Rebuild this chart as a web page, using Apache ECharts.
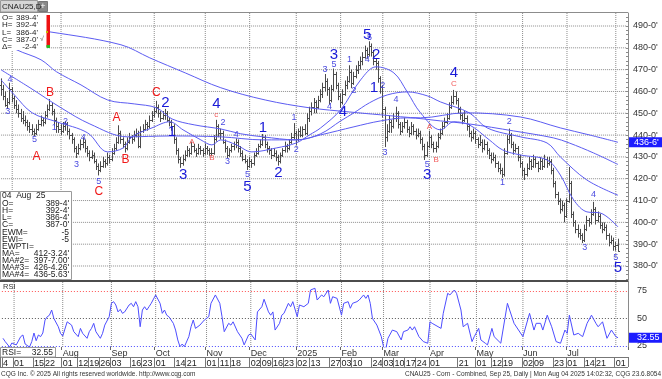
<!DOCTYPE html>
<html><head><meta charset="utf-8">
<script src="https://cdn.jsdelivr.net/npm/echarts@6/dist/echarts.min.js"></script>
<style>html,body{margin:0;padding:0;background:#fff}#c{width:662px;height:379px}</style>
</head><body><div id="c"></div>
<script>
// ---------- DATA ----------
const startDate = '2024-06-24', endDate = '2025-08-04';
const holidays = ['2024-07-04','2024-09-02','2024-11-28','2024-12-25','2025-01-01','2025-01-09','2025-01-20','2025-02-17','2025-04-18','2025-05-26','2025-06-19','2025-07-04'];
const padSlots = 4;

// [open, high, low, close] per trading day
const ohlc = [
[463,466,458,461],[461,463,456,458],[458,460,453,454],[454,457,452,455],[455,464,454,461],[461,462,455,457],[457,458,452,454],[454,456,450,452],[452,454,448,450],[450,452,446,448],
[448,451,445,447],[447,449,444,446],[446,447,442,444],[444,446,441,443],[443,445,440,442],[442,443,439.5,441],[441,445,440,443],[443,447,442,445],[445,449,444,447],[447,448,444,446],
[446,451,445,449],[449,454,448,452],[452,456.5,451,454],[454,455,449,451],[451,452,444,447],[447,448,441,444],[444,446,441,443],[443,445,440,442],[442,446,441,444],[444,446.5,442,445],
[445,446,440,442],[442,443,438,440],[440,441,436,438],[438,439,432,434],[434,435,429.5,432],[432,436,431,434],[434,438,433,436],[436,439,434,437],[437,438,432,434],[434,435,430,432],
[432,433,428,430],[430,433,429,431],[431,432,427,428],[428,429,424,426],[426,427,421.5,424],[424,428,423,426],[426,430,425,428],[428,429,425,427],[427,432,426,430],[430,431,427,429],
[429,434,428,432],[432,436,431,434],[434,439,433,437],[437,444.5,436,441],[441,442,436,438],[438,439,434,436],[436,437,432,434],[434,439,433,437],[437,441,436,439],[439,440,436,438],
[438,442,437,440],[440,443,439,441],[441,442,434,435],[435,444,434,442],[442,445,441,443],[443,447,442,445],[445,446,442,444],[444,449,443,447],[447,451,446,449],[449,453,448,451],
[451,455.7,450,453],[453,454,448,450],[450,451,446,448],[448,451,447,449],[449,452,447,450],[450,451,446,447],[447,448,444,446],[446,447,442,444],[444,445,436,438],[438,439,431,433],
[433,434,427,429],[429,430,425,427],[427,431,426,429],[429,433,428,431],[431,435,430,433],[433,434,430,432],[432,437,431,435],[435,436,432,433],[433,434,430,432],[432,436,431,434],
[434,435,431,433],[433,434,430,432],[432,436,431,434],[434,435,431,433],[433,434,430.5,432],[432,434,430.5,432],[432,440,431,438],[438,447,437,444],[444,445,439,441],[441,443,438,441],
[441,442,436,437],[437,438,432,434],[434,435,429.5,431],[431,434,430,433],[433,436,432,435],[435,437,433,436],[436,438.5,434,437],[437,438,432,434],[434,435,430,432],[432,433,428,429],
[429,431,427,428],[428,429,424,426],[426,430,425,428],[428,429,425,427],[427,432,426,431],[431,434,430,432],[432,436,431,435],[435,438,434,436],[436,440.5,435,439],[439,440,434,436],
[436,437,432,434],[434,435,431,433],[433,434,429,431],[431,434,430,432],[432,433,428,430],[430,431,426,428],[428,432,427,431],[431,434,430,433],[433,437,432,435],[435,436,432,434],
[434,438,433,437],[437,441,436,439],[439,445.5,438,441],[441,442,435.5,438],[438,443,437,442],[442,444,439,440],[440,444,439,443],[443,445,440,441],[441,450,440,448],[448,453,446,451],
[451,455,449,453],[453,457,450,455],[455,456,450,453],[453,458,452,456],[456,461,455,459],[459,464,457,462],[462,468,460,465],[465,466,458,461],[461,462,454,456],[456,463,455,461],
[461,470.5,460,468],[468,469,461,463],[463,464,456,458],[458,459,452.5,455],[455,461,454,459],[459,465,458,463],[463,467,461,465],[465,472,464,469],[469,470,461.5,464],[464,469,463,467],
[467,472,466,470],[470,474,468,472],[472,476,470,474],[474,478,472,476],[476,481,475,479],[479,480,475,477],[477,483,476,481],[481,482,476,478],[478,479,472,474],[474,475,470,473],
[473,474,464,466],[466,467,459,462],[462,463,448,452],[452,453,434.5,439],[439,445,437,442],[442,449,441,446],[446,447,441,444],[444,450,443,448],[448,453,446,450],[450,451,443,445],
[445,446,440,442],[442,446,441,444],[444,448,443,446],[446,447,441,443],[443,444,439,441],[441,446,440,444],[444,445,440,442],[442,443,438,440],[440,443,439,441],[441,442,436,438],
[438,439,433,435],[435,436,428.6,431],[431,437,430,435],[435,442,434,439],[439,440,434,436],[436,437,432,434],[434,437,432,435],[435,441,434,439],[439,443,438,441],[441,446,440,444],
[444,448,443,446],[446,450,445,448],[448,455,447,453],[453,458,452,455],[455,460.7,454,458],[458,460,454,456],[456,457,450,452],[452,453,447,449],[449,450,445,447],[447,451,446,448],
[448,449,442,444],[444,445,439,441],[441,442,437,439],[439,443,438,441],[441,442,436,438],[438,439,434,436],[436,440,435,437],[437,438,432,434],[434,438,433,436],[436,437,431,433],
[433,434,429,431],[431,432,427,429],[429,432,428,430],[430,431,425,427],[427,428,423,425],[425,427,422,424],[424,425,420.4,422],[422,434,421,432],[432,440,431,438],[438,443,436,440],
[440,441,434,436],[436,437,431,433],[433,436,432,434],[434,435,428,430],[430,431,425,427],[427,428,421,424],[424,425,419.4,422],[422,427,421,425],[425,430,424,428],[428,429,424,426],
[426,431,425,429],[429,430,425,427],[427,428,423,425],[425,430,424,428],[428,429,424,426],[426,431,425,429],[429,430,425,427],[427,430,426,428],[428,429,422,424],[424,425,416,418],
[418,419,411,413],[413,414,408,410],[410,411,404,406],[406,410,405,408],[408,409,400,403],[403,411,402,410],[410,425.4,409,418],[418,419,402,404],[404,405,398,400],[400,401,395,397],
[397,399,393,395],[395,397,392,394],[394,395,390.5,392],[392,399,391,397],[397,403,396,401],[401,402,398,400],[400,406,399,404],[404,409.4,403,406],[406,407,399,401],[401,405,400,403],
[403,404,397,399],[399,400,395,397],[397,400,396,398],[398,399,392,394],[394,395,389,391],[391,394,390,392],[392,393,387,389],[389,391,387,389.5],[389.5,392.5,386.5,387]
];

// moving averages: [bar index, value]
const maFast = [[0,465.3],[6,458.4],[14,450.2],[25,446.1],[39,441],[48,432.3],[55,434.1],[59,439.2],[68,443.3],[76,446.1],[82,442.4],[90,437.8],[95,435.5],[99,437.8],[106,435.5],[113,432.3],[124,434.1],[133,436.4],[139,440.1],[144,443.3],[153,451.6],[162,465.3],[169,471.3],[177,468.5],[183,459.8],[189,450.2],[198,442.4],[204,446.1],[211,444.7],[220,437.8],[226,433.2],[234,430.9],[246,428.6],[252,421.7],[258,410.3],[264,404.8],[270,404.3],[278,397.88]];
const maMid = [[0,469.9],[13,461.7],[27,452.5],[40,445.1],[57,439.2],[76,439.6],[99,439.2],[118,437.8],[133,437.8],[144,440.6],[153,446.5],[159,450.2],[166,454.8],[174,458.4],[183,459.8],[192,458],[198,455.2],[211,450.2],[219,443.3],[234,439.2],[246,436.4],[252,430],[264,419.4],[278,412.41]];
const maSlow = [[0,483.7],[7,479.1],[18,474.5],[25,469],[36,463],[48,456.1],[60,454.3],[70,452.5],[77,447.4],[87,444.7],[99,442.8],[108,440.6],[118,439.2],[133,437.8],[144,440.1],[159,443.8],[171,446.5],[183,447.9],[198,446.5],[211,445.1],[231,441.9],[249,438.7],[256,436.4],[267,431.8],[278,426.53]];
const maLong = [[0,490],[22,487.3],[54,481.4],[67,475.4],[83,468.5],[99,461.7],[119,456.1],[139,452.5],[157,450.6],[171,449.3],[189,447.9],[209,450.2],[234,448.3],[252,443.3],[265,440.1],[278,436.70]];

// RSI: [bar index, value]
const rsi = [[0,32],[1,29],[3,24],[4,27.7],[6,26],[8,33.5],[9,35],[10,26.8],[12,24],[13,29],[14,36.8],[15,29.8],[16,35],[17,33.5],[18,36.8],[19,48.6],[20,51.6],[21,53],[22,57.7],[23,50],[25,42.5],[26,36.5],[27,34],[29,47],[31,44],[32,38],[34,33.5],[35,41],[36,36.5],[38,32],[39,38],[40,41],[41,45.6],[42,38],[44,32],[45,36.5],[46,44],[48,51.6],[49,63.8],[50,65.3],[51,62.3],[52,56],[53,58.3],[54,54.7],[55,56],[57,62.3],[58,63.8],[59,60.7],[60,65.3],[61,60.7],[62,42.5],[63,57.7],[64,60.7],[65,57.7],[66,60.7],[67,63.8],[69,71.4],[71,63.8],[72,54.7],[73,57.7],[74,53],[75,51.6],[77,45.6],[78,39.5],[79,30.5],[80,24.4],[81,26.8],[82,24.4],[84,33.5],[85,42.5],[86,48.6],[87,41],[89,44],[91,48.6],[93,51.6],[94,63.8],[96,71.4],[98,63.8],[99,51.6],[100,38],[102,45.6],[103,44],[104,47],[106,38],[108,32],[109,26],[111,35],[112,36],[114,30.5],[115,56],[117,60.7],[118,67.5],[120,56],[121,53],[122,56],[123,39.5],[125,45.6],[126,53],[127,54.7],[129,63.8],[130,60.7],[131,65.3],[133,51.6],[134,62.3],[136,60.7],[138,63.8],[139,75.9],[141,77.5],[142,66.8],[144,71.4],[145,69.8],[147,75.9],[148,63.8],[149,69.8],[151,68.3],[153,53],[154,63.8],[156,65.3],[157,59.3],[158,63.8],[160,65.3],[161,66.8],[163,71.4],[164,68.3],[165,71.4],[166,63.8],[167,50],[169,44],[171,33.5],[172,24.4],[173,22],[174,32],[176,39.5],[178,38],[180,30.5],[181,38],[183,39.5],[184,42.5],[185,39.5],[186,42.5],[188,33.5],[190,29],[192,27.5],[193,47],[194,45.6],[198,41],[199,54.7],[201,72.9],[202,71.4],[204,75.9],[205,72.9],[207,57.7],[208,42.5],[210,45.6],[212,29],[213,33.5],[215,41],[216,30.5],[218,27.5],[219,26],[221,41],[222,33.5],[225,27.5],[228,63.8],[229,57.7],[231,45.6],[235,33.5],[238,54.7],[240,39.5],[241,45.6],[243,45.6],[244,39.5],[246,53],[248,42.5],[250,29],[252,27.5],[254,39.5],[255,36.5],[256,53],[258,35],[260,36.5],[262,33.5],[263,39.5],[264,45.6],[266,53],[268,45.6],[269,42.5],[271,47],[273,32],[275,39.5],[277,33.5],[278,32.55]];

const priceTicks = [380,390,400,410,420,430,440,450,460,470,480,490];
const rsiTicks = [25,50,75];
const monthTicks = [['2024-08-01','Aug'],['2024-09-03','Sep'],['2024-10-01','Oct'],['2024-11-01','Nov'],['2024-12-02','Dec'],['2025-01-02','2025'],['2025-02-03','Feb'],['2025-03-03','Mar'],['2025-04-01','Apr'],['2025-05-01','May'],['2025-06-02','Jun'],['2025-07-01','Jul']];
const dayTicks = [['2024-06-24','4'],['2024-07-01','01'],['2024-07-15','15'],['2024-07-22','22'],['2024-08-01','01'],['2024-08-12','12'],['2024-08-19','19'],['2024-08-26','26'],['2024-09-03','03'],['2024-09-16','16'],['2024-09-23','23'],['2024-10-01','01'],['2024-10-14','14'],['2024-10-21','21'],['2024-11-01','01'],['2024-11-11','11'],['2024-11-18','18'],['2024-12-02','02'],['2024-12-09','09'],['2024-12-16','16'],['2024-12-23','23'],['2025-01-02','02'],['2025-01-13','13'],['2025-01-27','27'],['2025-02-03','03'],['2025-02-10','10'],['2025-02-24','24'],['2025-03-03','03'],['2025-03-10','10'],['2025-03-17','17'],['2025-03-24','24'],['2025-04-01','01'],['2025-04-21','21'],['2025-05-01','01'],['2025-05-12','12'],['2025-05-19','19'],['2025-06-02','02'],['2025-06-09','09'],['2025-06-23','23'],['2025-07-01','01'],['2025-07-14','14'],['2025-07-21','21'],['2025-08-01','01']];

// wave annotations: [bar index, price, text, kind]  B=big blue, b=small blue, R=big red, r=small red
const waves = [
[4,465.3,'4','b'],[3,450.6,'3','b'],[15,437.8,'5','b'],[24,443.3,'1','b'],[29,446.1,'2','b'],[34,426.3,'3','b'],[37,438.7,'4','b'],[44,418.5,'5','b'],
[16,430,'A','R'],[22,459.4,'B','R'],[44,413.9,'C','R'],[52,447.9,'A','R'],[56,428.6,'B','R'],[70,459.4,'C','R'],
[74,454.8,'2','B'],[77,441.5,'1','B'],[82,421.7,'3','B'],
[86,436.9,'A','r'],[95,429.5,'B','r'],[97,449.3,'c','r'],[97,454.3,'4','B'],
[100,445.6,'2','b'],[102,427.7,'3','b'],[106,440.1,'4','b'],[111,421.7,'5','b'],
[111,416.2,'5','B'],[118,443.3,'1','B'],[125,422.7,'2','B'],
[132,447.9,'1','b'],[133,433.2,'2','b'],[146,469.9,'3','b'],[148,452.9,'4','b'],[150,472.2,'5','b'],
[150,476.8,'3','B'],[154,450.6,'4','B'],
[157,474.5,'1','b'],[159,460.3,'2','b'],[165,474.5,'4','b'],[166,484.6,'5','b'],
[165,486,'5','B'],[169,476.8,'2','B'],[168,461.7,'1','B'],
[172,462.6,'2','b'],[173,431.8,'3','b'],[178,456.1,'4','b'],[192,426.3,'5','b'],
[192,421.7,'3','B'],
[193,443.8,'A','r'],[196,428.6,'B','r'],[204,463.5,'C','r'],[204,468.5,'4','B'],
[226,418.1,'1','b'],[229,446.1,'2','b'],[263,388.3,'3','b'],[267,412.6,'4','b'],[277,384.1,'5','b'],
[278,379.1,'5','B']
];

// ---------- BUILD ----------
function ymd(d){return d.toISOString().slice(0,10);}
const cats = [];
for (let d = new Date(startDate+'T00:00:00Z'); ymd(d) <= endDate; d.setUTCDate(d.getUTCDate()+1)) {
  const w = d.getUTCDay(), s = ymd(d);
  if (w === 0 || w === 6 || holidays.includes(s)) continue;
  cats.push(s);
}
for (let k = 0; k < padSlots; k++) cats.push('pad' + k);
const lastSlot = cats.length - 1;
const idxOf = new Map(cats.map((c,i)=>[c,i]));
const monthLabelAt = new Map(monthTicks.map(([d,t])=>[idxOf.get(d),t]));
const dayLabelAt = new Map(dayTicks.map(([d,t])=>[idxOf.get(d),t]));
const monthStarts = [];
cats.forEach((c,i)=>{ if(i>0 && c.length===10 && cats[i-1].slice(0,7)!==c.slice(0,7)) monthStarts.push(i); });
const minorTicks = []; for (let v = 374; v <= 494; v += 2) minorTicks.push(v);

const FF = '"Liberation Sans", Arial, sans-serif';
function fmt8(v){ const f=Math.floor(v); return f + '-' + Math.round((v-f)*8) + "'"; }
const waveStyle = {
  B:{c:'#1a1ad8', fs:15}, b:{c:'#4a4ae0', fs:9},
  R:{c:'#f01818', fs:12}, r:{c:'#f25a5a', fs:8}
};
const lastLong = maLong[maLong.length-1][1];
const lastRsi = rsi[rsi.length-1][1];
const PMIN = 373.58, PMAX = 495.96, RMIN = 24.09, RMAX = 84.09;
const GRID = '#8c8c8c';
const rsiLineColors = {75:'#ff5050', 50:'#555555', 25:'#4848ff'};

function renderOHLC(params, api){
  const i = api.value(0);
  const pH = api.coord([i, api.value(2)]), pL = api.coord([i, api.value(3)]);
  const yo = Math.round(api.coord([i, api.value(1)])[1]) + 0.5;
  const yc = Math.round(api.coord([i, api.value(4)])[1]) + 0.5;
  const x = Math.round(pH[0] - 0.5) + 0.5;
  const col = '#4a4a4a';
  return {type:'group', children:[
    {type:'line', shape:{x1:x,y1:pH[1],x2:x,y2:pL[1]}, style:{stroke:col,lineWidth:1}},
    {type:'line', shape:{x1:x-1.5,y1:yo,x2:x,y2:yo}, style:{stroke:col,lineWidth:1}},
    {type:'line', shape:{x1:x,y1:yc,x2:x+1.5,y2:yc}, style:{stroke:col,lineWidth:1}}
  ]};
}
// RSI reference lines (custom series, proven to render)
function makeHRenderer(hVals, colorOf){
  return function(params, api){
    const cs = params.coordSys;
    const kids = hVals.map(v=>{
      const y = Math.round(api.coord([0, v])[1]) + 0.5;
      return {type:'line', shape:{x1:cs.x, y1:y, x2:cs.x+cs.width, y2:y}, style:{stroke:colorOf(v), lineWidth:1, lineDash:[1,2]}};
    });
    return {type:'group', children:kids};
  };
}
function gridLineSeries(xi, yi, pts){
  return {type:'line', xAxisIndex:xi, yAxisIndex:yi, data:pts, symbol:'none', silent:true, z:1, smooth:false,
    lineStyle:{color:GRID, width:1, type:'dotted'}};
}
function maSeries(name, pts, extra){
  return Object.assign({name, type:'line', xAxisIndex:0, yAxisIndex:0, data:pts, smooth:0.35, symbol:'none',
    lineStyle:{color:'#5c5cf2', width:1}, z:3, silent:true}, extra||{});
}

function gText(x,y,text,size,fill,align){
  return {type:'text', x, y, z:101, silent:true, style:{text, fill:fill||'#222', fontSize:size, fontFamily:FF,
    align:align||'left', textAlign:align||'left', verticalAlign:'middle', textVerticalAlign:'middle'}};
}
const g = [];
g.push({type:'rect', z:100, shape:{x:0,y:0,width:662,height:12}, style:{fill:'#ffffff'}});
g.push({type:'rect', z:100, shape:{x:0.5,y:0.5,width:37,height:11.5}, style:{fill:'#d6d6d6', stroke:'#9a9a9a'}});
g.push(gText(2,6.5,'CNAU25,D',8,'#222'));
g.push({type:'rect', z:100, shape:{x:38.5,y:1.5,width:9,height:10}, style:{fill:'#8a8a8a', stroke:'#777'}});
g.push(gText(43,6.5,'+',9,'#fff','center'));
g.push({type:'line', z:100, shape:{x1:0,y1:12.5,x2:628,y2:12.5}, style:{stroke:'#8c8c8c', lineWidth:1}});
g.push({type:'rect', z:100, shape:{x:0,y:13,width:46,height:37}, style:{fill:'#ffffff'}});
[['O=',"389-4'"],['H=',"392-4'"],['L=',"386-4'"],['C=',"387-0'"],['Δ=',"-2-4'"]].forEach((r,k)=>{
  g.push(gText(2,17.5+k*7.4,r[0],8));
  g.push(gText(38,17.5+k*7.4,r[1],8,'#222','right'));
});
g.push(gText(40,39,'√',7,'#666'));
g.push({type:'rect', z:101, shape:{x:46.5,y:15,width:3.5,height:32}, style:{fill:'#ee1111'}});
g.push({type:'rect', z:102, shape:{x:46,y:31,width:2,height:2}, style:{fill:'#c8b400'}});
g.push({type:'rect', z:102, shape:{x:46.5,y:45,width:3.5,height:3}, style:{fill:'#22bb22'}});
g.push({type:'rect', z:100, shape:{x:0.5,y:191.5,width:71,height:88}, style:{fill:'#ffffff', stroke:'#9a9a9a'}});
g.push(gText(2,196,'04  Aug  25',8.5));
[['O=',"389-4'"],['H=',"392-4'"],['L=',"386-4'"],['C=',"387-0'"],['EWM=','-5'],['EWI=','-5'],['EWPTI=',''],
 ['MA=',"412-3.24'"],['MA#2=',"397-7.00'"],['MA#3=',"426-4.26'"],['MA#4=',"436-5.63'"]].forEach((r,k)=>{
  g.push(gText(2,203.8+k*7.1,r[0],8.5));
  if (r[1]) g.push(gText(69,203.8+k*7.1,r[1],8.5,'#222','right'));
});
g.push({type:'line', z:100, shape:{x1:0,y1:281,x2:628,y2:281}, style:{stroke:'#111', lineWidth:1.6}});
g.push(gText(3,286.5,'RSI',7.5,'#333'));
g.push({type:'rect', z:100, shape:{x:0.5,y:347.5,width:55,height:9.5}, style:{fill:'#ffffff', stroke:'#9a9a9a'}});
g.push(gText(2,352.5,'RSI=',8.5));
g.push(gText(53,352.5,'32.55',8.5,'#222','right'));
g.push({type:'line', z:100, shape:{x1:0,y1:367.5,x2:628,y2:367.5}, style:{stroke:'#777', lineWidth:1}});
g.push({type:'line', z:100, shape:{x1:0.5,y1:357,x2:0.5,y2:367.5}, style:{stroke:'#777', lineWidth:1}});
g.push(gText(1,374,'CQG Inc. © 2025 All rights reserved worldwide. http://www.cqg.com',6.5,'#333'));
g.push(gText(661,374,'CNAU25 - Corn - Combined, Sep 25, Daily | Mon Aug 04 2025 14:02:32, CQG 23.6.8054',6.5,'#333','right'));

const series = [];
// dotted grid: horizontal price lines and vertical month lines (line series through the axes)
priceTicks.forEach(v=>series.push(gridLineSeries(0,0,[[0,v],[lastSlot,v]])));
monthStarts.forEach(i=>series.push(gridLineSeries(0,0,[[i,PMIN],[i,PMAX]])));
monthStarts.forEach(i=>series.push(gridLineSeries(1,1,[[i,RMIN],[i,RMAX]])));
series.push(
  {type:'custom', xAxisIndex:1, yAxisIndex:1, z:1, silent:true, clip:false,
    data:[[0,50]], encode:{x:0,y:1}, renderItem:makeHRenderer(rsiTicks, (v)=>rsiLineColors[v])},
  {type:'custom', xAxisIndex:0, yAxisIndex:0, renderItem:renderOHLC, data:ohlc.map((b,i)=>[i,b[0],b[1],b[2],b[3]]),
    encode:{x:0, y:[1,2,3,4]}, z:2, silent:true},
  maSeries('MA#4', maLong, {markLine:{silent:true, animation:false, symbol:['none','none'], lineStyle:{color:'rgba(0,0,0,0)', width:0},
    label:{show:true, position:'end', distance:1, formatter:()=>fmt8(lastLong), color:'#ffffff', backgroundColor:'#1c1cff',
      fontSize:9, fontFamily:FF, padding:[1,6,0,5]}, data:[{yAxis:lastLong}]}}),
  maSeries('MA#3', maSlow),
  maSeries('MA', maMid),
  maSeries('MA#2', maFast),
  {type:'custom', xAxisIndex:0, yAxisIndex:0, data:waves.map(w=>[w[0],w[1]]), encode:{x:0,y:1}, z:5, silent:true,
    renderItem:(params, api)=>{
      const w = waves[params.dataIndex]; const s = waveStyle[w[3]];
      const pt = api.coord([api.value(0), api.value(1)]);
      return {type:'text', x:pt[0], y:pt[1], style:{text:w[2], fill:s.c, fontSize:s.fs, fontFamily:FF,
        align:'center', textAlign:'center', verticalAlign:'middle', textVerticalAlign:'middle'}};
    }},
  {name:'RSI', type:'line', xAxisIndex:1, yAxisIndex:1, data:rsi, symbol:'none', lineStyle:{color:'#4d4dff', width:1}, z:3, silent:true,
    markLine:{silent:true, animation:false, symbol:['none','none'], lineStyle:{color:'rgba(0,0,0,0)', width:0},
      label:{show:true, position:'end', distance:1, formatter:()=>lastRsi.toFixed(2), color:'#ffffff', backgroundColor:'#1c1cff',
        fontSize:9, fontFamily:FF, padding:[1,6,0,8]}, data:[{yAxis:lastRsi}]}}
);

const option = {
  animation:false,
  backgroundColor:'#ffffff',
  grid:[{left:0, top:13, width:628, height:267},{left:0, top:281, width:628, height:66}],
  xAxis:[
    {type:'category', gridIndex:0, data:cats, boundaryGap:true, axisLine:{show:false}, axisTick:{show:false}, axisLabel:{show:false}, splitLine:{show:false}},
    {type:'category', gridIndex:1, data:cats, boundaryGap:true, position:'bottom', axisLine:{show:false},
      axisTick:{show:true, interval:(i)=>monthLabelAt.has(i), length:3, lineStyle:{color:'#666'}},
      axisLabel:{show:true, interval:(i)=>monthLabelAt.has(i), formatter:(v,i)=>monthLabelAt.get(i)||'', align:'left', margin:2, fontSize:9, color:'#333', fontFamily:FF},
      splitLine:{show:false}},
    {type:'category', gridIndex:1, data:cats, boundaryGap:true, position:'bottom', offset:10,
      axisLine:{show:true, lineStyle:{color:'#777'}},
      axisTick:{show:true, interval:(i)=>dayLabelAt.has(i), length:10, lineStyle:{color:'#777'}},
      axisLabel:{show:true, interval:(i)=>dayLabelAt.has(i), formatter:(v,i)=>dayLabelAt.get(i)||'', align:'left', margin:2, fontSize:9, color:'#222', fontFamily:FF},
      splitLine:{show:false}}
  ],
  yAxis:[
    {type:'value', gridIndex:0, position:'right', min:PMIN, max:PMAX,
      axisLine:{show:true, lineStyle:{color:'#8a8a8a'}},
      axisTick:{show:true, inside:true, length:2, customValues:minorTicks, lineStyle:{color:'#8a8a8a'}},
      axisLabel:{show:true, customValues:priceTicks, formatter:(v)=>fmt8(v), margin:5, fontSize:9, color:'#333', fontFamily:FF},
      splitLine:{show:false}},
    {type:'value', gridIndex:1, position:'right', min:RMIN, max:RMAX,
      axisLine:{show:true, lineStyle:{color:'#8a8a8a'}},
      axisTick:{show:false},
      axisLabel:{show:true, customValues:rsiTicks, margin:9, fontSize:9, color:'#333', fontFamily:FF},
      splitLine:{show:false}}
  ],
  series,
  graphic:g
};
const chart = echarts.init(document.getElementById('c'), null, {renderer:'canvas', width:662, height:379});
chart.setOption(option);
</script>
</body></html>
